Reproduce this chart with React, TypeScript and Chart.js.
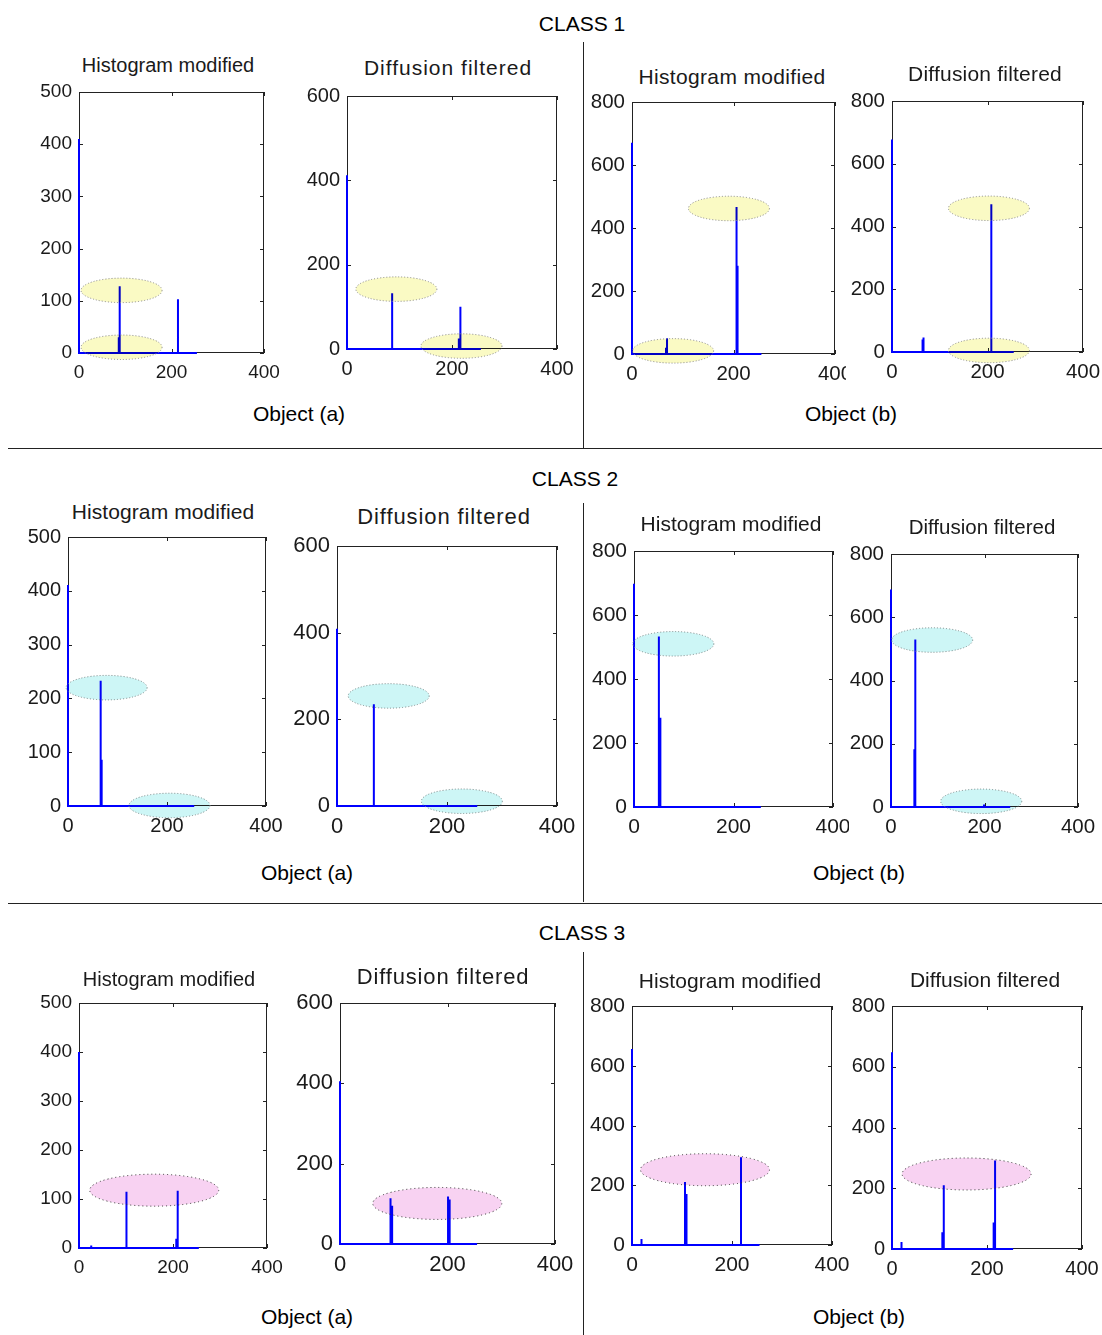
import React, { useEffect, useRef } from 'react';
import { Chart, registerables } from 'chart.js';

Chart.register(...registerables);

// ---------- data ----------
const HIST_END = 255; // histogram bins run 0..255
const X_MAX = 400;
const xTicks = [0, 200, 400];
const yTicks500 = [0, 100, 200, 300, 400, 500];
const yTicks600 = [0, 200, 400, 600];
const yTicks800 = [0, 200, 400, 600, 800];

const panelTitles = ['Histogram modified', 'Diffusion filtered'];
const classNames = ['CLASS 1', 'CLASS 2', 'CLASS 3'];
const objectNames = ['Object (a)', 'Object (b)'];

// CLASS 1
const c1aHistBins = [0, 86, 88, 214];
const c1aHistCounts = [410, 30, 128, 103];
const c1aHistMarks = [[92, 120], [92, 11]];
const c1aDiffBins = [0, 86, 213, 216];
const c1aDiffCounts = [412, 132, 25, 100];
const c1aDiffMarks = [[94, 142], [218, 7]];
const c1bHistBins = [0, 67, 69, 206, 208];
const c1bHistCounts = [671, 20, 50, 467, 280];
const c1bHistMarks = [[191, 462], [81, 10]];
const c1bDiffBins = [0, 64, 66, 208];
const c1bDiffCounts = [677, 40, 46, 471];
const c1bDiffMarks = [[203, 458], [203, 5]];

// CLASS 2
const c2aHistBins = [0, 66, 68];
const c2aHistCounts = [411, 233, 86];
const c2aHistMarks = [[78, 220], [205, 1]];
const c2aDiffBins = [0, 67];
const c2aDiffCounts = [409, 235];
const c2aDiffMarks = [[94, 254], [227, 11]];
const c2bHistBins = [0, 50, 53];
const c2bHistCounts = [698, 533, 279];
const c2bHistMarks = [[79, 510]];
const c2bDiffBins = [0, 50, 52, 199];
const c2bDiffCounts = [688, 183, 530, 8];
const c2bDiffMarks = [[88, 528], [193, 18]];

// CLASS 3
const c3aHistBins = [0, 26, 101, 207, 210];
const c3aHistCounts = [400, 5, 115, 19, 117];
const c3aHistMarks = [[160, 118]];
const c3aDiffBins = [0, 94, 97, 201, 204];
const c3aDiffCounts = [405, 114, 95, 118, 111];
const c3aDiffMarks = [[181, 101]];
const c3bHistBins = [0, 19, 106, 109, 218];
const c3bHistCounts = [656, 20, 211, 171, 294];
const c3bHistMarks = [[146, 252]];
const c3bDiffBins = [0, 20, 106, 109, 214, 217];
const c3bDiffCounts = [648, 23, 55, 210, 87, 291];
const c3bDiffMarks = [[157, 247]];

// ---------- styles / layout ----------
const FONT = '"Liberation Sans", Arial, Helvetica, sans-serif';
const TEXT = '#1a1a1a';
const PAD_T = 14;
const PAD_R = 25;
const PAD_B = 45;

const TONES: Record<string, { fill: string; edge: string; w: number; h: number; dash: number[] }> = {
  yellow: { fill: '#fafac4', edge: '#8a8a8a', w: 81, h: 24.5, dash: [1, 2] },
  cyan: { fill: '#cdf6f6', edge: '#7a8a8a', w: 81, h: 24.5, dash: [1, 2] },
  magenta: { fill: '#f8d2f2', edge: '#333333', w: 129, h: 32, dash: [1, 3] },
};

type PanelSpec = {
  kind: number;
  bins: number[];
  counts: number[];
  marks: number[][];
  yTicks: number[];
  tone: string;
  box: number[];
  padL: number;
  tick: number;
  tFont: number;
  tLs: number;
  tPos: number[];
};

const PANELS: PanelSpec[] = [
  { kind: 0, bins: c1aHistBins, counts: c1aHistCounts, marks: c1aHistMarks, yTicks: yTicks500, tone: 'yellow', box: [79, 92, 264, 353], padL: 50, tick: 19, tFont: 20, tLs: 0, tPos: [168, 65] },
  { kind: 1, bins: c1aDiffBins, counts: c1aDiffCounts, marks: c1aDiffMarks, yTicks: yTicks600, tone: 'yellow', box: [347, 96, 557, 349], padL: 50, tick: 20, tFont: 21, tLs: 1, tPos: [448, 67] },
  { kind: 0, bins: c1bHistBins, counts: c1bHistCounts, marks: c1bHistMarks, yTicks: yTicks800, tone: 'yellow', box: [632, 102, 835, 354], padL: 50, tick: 20.5, tFont: 21, tLs: 0.35, tPos: [732, 76] },
  { kind: 1, bins: c1bDiffBins, counts: c1bDiffCounts, marks: c1bDiffMarks, yTicks: yTicks800, tone: 'yellow', box: [892, 101, 1083, 352], padL: 46, tick: 20.5, tFont: 21, tLs: 0.2, tPos: [985, 73] },

  { kind: 0, bins: c2aHistBins, counts: c2aHistCounts, marks: c2aHistMarks, yTicks: yTicks500, tone: 'cyan', box: [68, 537, 266, 806], padL: 50, tick: 20, tFont: 21, tLs: 0.1, tPos: [163, 511] },
  { kind: 1, bins: c2aDiffBins, counts: c2aDiffCounts, marks: c2aDiffMarks, yTicks: yTicks600, tone: 'cyan', box: [337, 546, 557, 806], padL: 50, tick: 22, tFont: 22, tLs: 0.9, tPos: [444, 517] },
  { kind: 0, bins: c2bHistBins, counts: c2bHistCounts, marks: c2bHistMarks, yTicks: yTicks800, tone: 'cyan', box: [634, 551, 833, 807], padL: 50, tick: 21, tFont: 21, tLs: 0, tPos: [731, 523] },
  { kind: 1, bins: c2bDiffBins, counts: c2bDiffCounts, marks: c2bDiffMarks, yTicks: yTicks800, tone: 'cyan', box: [891, 554, 1078, 807], padL: 42, tick: 20.5, tFont: 20.5, tLs: 0, tPos: [982, 527] },

  { kind: 0, bins: c3aHistBins, counts: c3aHistCounts, marks: c3aHistMarks, yTicks: yTicks500, tone: 'magenta', box: [79, 1003, 267, 1248], padL: 50, tick: 19, tFont: 20, tLs: 0, tPos: [169, 979] },
  { kind: 1, bins: c3aDiffBins, counts: c3aDiffCounts, marks: c3aDiffMarks, yTicks: yTicks600, tone: 'magenta', box: [340, 1003, 555, 1244], padL: 57, tick: 22, tFont: 22, tLs: 0.85, tPos: [443, 977] },
  { kind: 0, bins: c3bHistBins, counts: c3bHistCounts, marks: c3bHistMarks, yTicks: yTicks800, tone: 'magenta', box: [632, 1006, 832, 1245], padL: 50, tick: 21, tFont: 21, tLs: 0.1, tPos: [730, 980] },
  { kind: 1, bins: c3bDiffBins, counts: c3bDiffCounts, marks: c3bDiffMarks, yTicks: yTicks800, tone: 'magenta', box: [892, 1006, 1082, 1249], padL: 43, tick: 20, tFont: 21, tLs: 0, tPos: [985, 979] },
];

const HEADERS = [
  { text: classNames[0], x: 582, y: 23 },
  { text: classNames[1], x: 575, y: 478 },
  { text: classNames[2], x: 582, y: 932 },
  { text: objectNames[0], x: 299, y: 413 },
  { text: objectNames[1], x: 851, y: 413 },
  { text: objectNames[0], x: 307, y: 872 },
  { text: objectNames[1], x: 859, y: 872 },
  { text: objectNames[0], x: 307, y: 1316 },
  { text: objectNames[1], x: 859, y: 1316 },
];

const RULES = [
  { left: 583, top: 42, width: 1, height: 406 },
  { left: 8, top: 448, width: 1094, height: 1 },
  { left: 583, top: 503, width: 1, height: 399 },
  { left: 8, top: 903, width: 1094, height: 1 },
  { left: 583, top: 952, width: 1, height: 383 },
];

function stems(bins: number[], counts: number[]) {
  const pts: { x: number; y: number }[] = [];
  bins.forEach((b, i) => {
    pts.push({ x: b, y: 0 }, { x: b, y: counts[i] }, { x: b, y: 0 });
  });
  pts.push({ x: HIST_END, y: 0 });
  return pts;
}

function Panel({ p }: { p: PanelSpec }) {
  const ref = useRef<HTMLCanvasElement | null>(null);
  const [l, t, r, b] = p.box;
  const w = p.padL + (r - l) + PAD_R;
  const h = PAD_T + (b - t) + PAD_B;

  useEffect(() => {
    if (!ref.current) return;
    const tone = TONES[p.tone];
    const yMax = p.yTicks[p.yTicks.length - 1];

    const bgPlugin = {
      id: 'whiteBg',
      beforeDraw(chart: any) {
        const c = chart.ctx;
        c.save();
        c.fillStyle = '#ffffff';
        c.fillRect(0, 0, chart.width, chart.height);
        c.restore();
      },
    };

    const boxPlugin = {
      id: 'matlabBox',
      beforeDatasetsDraw(chart: any) {
        const c = chart.ctx;
        const a = chart.chartArea;
        const xs = chart.scales.x;
        const ys = chart.scales.y;
        c.save();
        c.strokeStyle = '#222';
        c.lineWidth = 1;
        c.strokeRect(Math.round(a.left) + 0.5, Math.round(a.top) + 0.5, Math.round(a.right - a.left) - 1, Math.round(a.bottom - a.top) - 1);
        c.beginPath();
        p.yTicks.forEach((v) => {
          const py = Math.round(ys.getPixelForValue(v)) + 0.5;
          c.moveTo(a.left, py);
          c.lineTo(a.left + 4, py);
          c.moveTo(a.right - 4, py);
          c.lineTo(a.right, py);
        });
        xTicks.forEach((v) => {
          const px = Math.round(xs.getPixelForValue(v)) + 0.5;
          c.moveTo(px, a.bottom);
          c.lineTo(px, a.bottom - 4);
          c.moveTo(px, a.top);
          c.lineTo(px, a.top + 4);
        });
        c.stroke();
        c.restore();
      },
    };

    const markPlugin = {
      id: 'marks',
      afterDatasetsDraw(chart: any) {
        const c = chart.ctx;
        const xs = chart.scales.x;
        const ys = chart.scales.y;
        p.marks.forEach(([mx, my]) => {
          const cx = xs.getPixelForValue(mx);
          const cy = ys.getPixelForValue(my);
          c.save();
          c.beginPath();
          c.ellipse(cx, cy, tone.w / 2, tone.h / 2, 0, 0, Math.PI * 2);
          c.globalCompositeOperation = 'multiply';
          c.fillStyle = tone.fill;
          c.fill();
          c.globalCompositeOperation = 'source-over';
          c.setLineDash(tone.dash);
          c.strokeStyle = tone.edge;
          c.lineWidth = 1;
          c.stroke();
          c.restore();
        });
      },
    };

    const chart = new Chart(ref.current, {
      type: 'line',
      data: {
        datasets: [
          {
            data: stems(p.bins, p.counts),
            borderColor: '#0000ff',
            borderWidth: 2,
            pointRadius: 0,
            tension: 0,
            clip: false,
            fill: false,
          } as any,
        ],
      },
      options: {
        animation: false,
        responsive: false,
        maintainAspectRatio: false,
        devicePixelRatio: 1,
        events: [],
        layout: { padding: { left: 0, top: PAD_T, right: PAD_R, bottom: 0 } },
        plugins: {
          legend: { display: false },
          tooltip: { enabled: false },
          title: { display: false },
        },
        scales: {
          x: {
            type: 'linear',
            min: 0,
            max: X_MAX,
            afterBuildTicks: (s: any) => {
              s.ticks = xTicks.map((v) => ({ value: v }));
            },
            afterFit: (s: any) => {
              s.height = PAD_B;
              s.paddingLeft = 0;
              s.paddingRight = 0;
            },
            grid: { display: false, drawTicks: false, tickLength: 0 },
            border: { display: false },
            ticks: {
              font: { family: FONT, size: p.tick },
              color: TEXT,
              padding: 8,
              maxRotation: 0,
              autoSkip: false,
            },
          },
          y: {
            type: 'linear',
            min: 0,
            max: yMax,
            afterBuildTicks: (s: any) => {
              s.ticks = p.yTicks.map((v) => ({ value: v }));
            },
            afterFit: (s: any) => {
              s.width = p.padL;
              s.paddingTop = 0;
              s.paddingBottom = 0;
            },
            grid: { display: false, drawTicks: false, tickLength: 0 },
            border: { display: false },
            ticks: {
              font: { family: FONT, size: p.tick },
              color: TEXT,
              padding: 7,
              autoSkip: false,
            },
          },
        },
      } as any,
      plugins: [bgPlugin, boxPlugin, markPlugin],
    });
    return () => chart.destroy();
  }, [p]);

  return (
    <canvas
      ref={ref}
      width={w}
      height={h}
      style={{ position: 'absolute', left: l - p.padL, top: t - PAD_T, width: w, height: h, display: 'block' }}
    />
  );
}

export default function App() {
  return (
    <div
      style={{
        position: 'absolute',
        left: 0,
        top: 0,
        width: 1102,
        height: 1335,
        background: '#ffffff',
        overflow: 'hidden',
        fontFamily: FONT,
      }}
    >
      {PANELS.map((p, i) => (
        <Panel key={i} p={p} />
      ))}
      {PANELS.map((p, i) => (
        <div
          key={'t' + i}
          style={{
            position: 'absolute',
            left: p.tPos[0],
            top: p.tPos[1],
            transform: 'translate(-50%, -50%)',
            whiteSpace: 'nowrap',
            fontSize: p.tFont,
            letterSpacing: p.tLs,
            lineHeight: 1,
            color: TEXT,
            zIndex: 3,
          }}
        >
          {panelTitles[p.kind]}
        </div>
      ))}
      {HEADERS.map((hd, i) => (
        <div
          key={'h' + i}
          style={{
            position: 'absolute',
            left: hd.x,
            top: hd.y,
            transform: 'translate(-50%, -50%)',
            whiteSpace: 'nowrap',
            fontSize: 21,
            lineHeight: 1,
            color: '#000',
            zIndex: 3,
          }}
        >
          {hd.text}
        </div>
      ))}
      {RULES.map((rl, i) => (
        <div
          key={'r' + i}
          style={{ position: 'absolute', ...rl, background: '#222', zIndex: 4 }}
        />
      ))}
    </div>
  );
}
